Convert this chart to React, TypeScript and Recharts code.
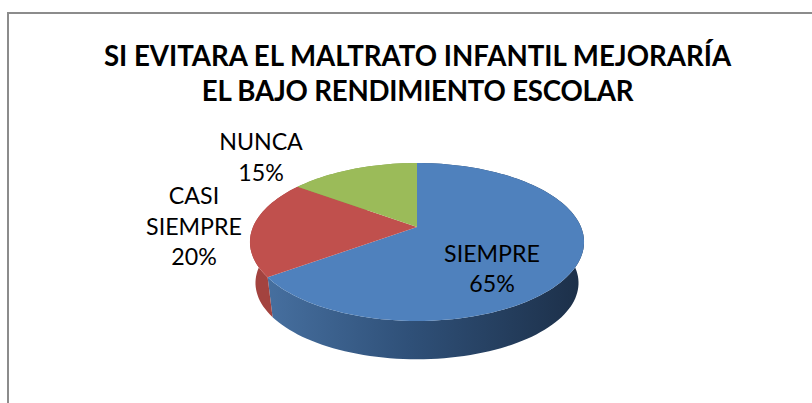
import { PieChart, Pie } from "recharts";

const sliceNames = ["SIEMPRE", "CASI SIEMPRE", "NUNCA"];
const sliceValues = [65, 20, 15];
const topColors = ["#4f81bd", "#c0504d", "#9bbb59"];
const wallColors = ["url(#blueWall)", "#a3433f", "#83a04b"];
const titleLines = [
  "SI EVITARA EL MALTRATO INFANTIL MEJORARÍA",
  "EL BAJO RENDIMIENTO ESCOLAR",
];

const data = sliceNames.map((name, i) => ({ name, value: sliceValues[i] }));

// where each label block is centred (first line baseline is worked out from it)
const labelCentres = [
  { x: 492, y: 269 },
  { x: 194, y: 226.5 },
  { x: 261, y: 157.5 },
];

const FONT = "Lato, sans-serif";
const TILT = 0.464; // squash of the disc
const PERSP = 0.19; // far side of the disc is smaller
const VANISH_Y = 1483; // vertical edges converge here
const BOTTOM_SCALE = 0.967;

// the disc is a projected circle, so the slices keep their true angles
function rim(cx: number, cy: number, r: number, deg: number) {
  const a = (deg * Math.PI) / 180;
  const u = Math.cos(a);
  const v = Math.sin(a);
  const d = 1 + PERSP * v;
  return { x: cx + (r * u) / d, y: cy - (r * TILT * v) / d };
}

function rimPoints(cx: number, cy: number, r: number, start: number, end: number) {
  const pts = [];
  const n = Math.max(2, Math.ceil(Math.abs(end - start) / 2));
  for (let i = 0; i <= n; i++) {
    pts.push(rim(cx, cy, r, start + ((end - start) * i) / n));
  }
  return pts;
}

const toPath = (pts: { x: number; y: number }[]) =>
  pts.map((p, i) => `${i ? "L" : "M"}${p.x.toFixed(2)} ${p.y.toFixed(2)}`).join(" ");

function TopSlice(props: any) {
  const { cx, cy, outerRadius, startAngle, endAngle, index } = props;
  const pts = rimPoints(cx, cy, outerRadius, startAngle, endAngle);
  return <path d={`M${cx} ${cy} ${toPath(pts).replace("M", "L")} Z`} fill={topColors[index]} />;
}

function WallSlice(props: any) {
  const { cx, cy, outerRadius, startAngle, endAngle, index } = props;
  const top = rimPoints(cx, cy, outerRadius, startAngle, endAngle);
  const bottom = top
    .map((p) => ({
      x: cx + (p.x - cx) * BOTTOM_SCALE,
      y: VANISH_Y + (p.y - VANISH_Y) * BOTTOM_SCALE,
    }))
    .reverse();
  return <path d={`${toPath(top)} ${toPath(bottom).replace("M", "L")} Z`} fill={wallColors[index]} />;
}

function SliceLabel(props: any) {
  const { index, name, value } = props;
  const lines = [...String(name).split(" "), `${value}%`];
  const c = labelCentres[index];
  const lineHeight = 30.5;
  const firstY = c.y - ((lines.length - 1) * lineHeight) / 2 + 8;
  return (
    <text x={c.x} textAnchor="middle" fontFamily={FONT} fontSize={23.2} fill="#000">
      {lines.map((line, i) => (
        <tspan key={line} x={c.x} y={firstY + i * lineHeight}>
          {line}
        </tspan>
      ))}
    </text>
  );
}

export default function App() {
  return (
    <div
      style={{
        position: "absolute",
        left: 0,
        top: 0,
        width: 812,
        height: 403,
        overflow: "hidden",
        background: "#fff",
      }}
    >
      <div
        style={{
          position: "absolute",
          left: 7,
          top: 12,
          width: 820,
          height: 400,
          borderLeft: "2px solid #8c8c8c",
          borderTop: "2px solid #8c8c8c",
        }}
      />
      <PieChart
        width={812}
        height={403}
        margin={{ top: 0, right: 0, bottom: 0, left: 0 }}
        style={{ position: "absolute", left: 0, top: 0 }}
      >
        <defs>
          <linearGradient id="blueWall" gradientUnits="userSpaceOnUse" x1={268} y1={0} x2={584} y2={0}>
            <stop offset="0%" stopColor="#466f9f" />
            <stop offset="45%" stopColor="#2f5078" />
            <stop offset="100%" stopColor="#1c2f48" />
          </linearGradient>
        </defs>
        <Pie
          data={data}
          dataKey="value"
          nameKey="name"
          cx={417}
          cy={227}
          outerRadius={164}
          startAngle={90}
          endAngle={-270}
          stroke="none"
          shape={WallSlice}
          isAnimationActive={false}
        />
        <Pie
          data={data}
          dataKey="value"
          nameKey="name"
          cx={417}
          cy={227}
          outerRadius={164}
          startAngle={90}
          endAngle={-270}
          stroke="none"
          shape={TopSlice}
          label={SliceLabel}
          labelLine={false}
          isAnimationActive={false}
        />
      </PieChart>
      {titleLines.map((line, i) => (
        <div
          key={line}
          style={{
            position: "absolute",
            left: 0,
            width: 835,
            top: 38 + i * 35,
            textAlign: "center",
            fontFamily: FONT,
            fontWeight: 700,
            fontSize: 27.65,
            letterSpacing: i === 1 ? -0.22 : 0,
            lineHeight: "35px",
            color: "#000",
            whiteSpace: "nowrap",
          }}
        >
          {line}
        </div>
      ))}
    </div>
  );
}
